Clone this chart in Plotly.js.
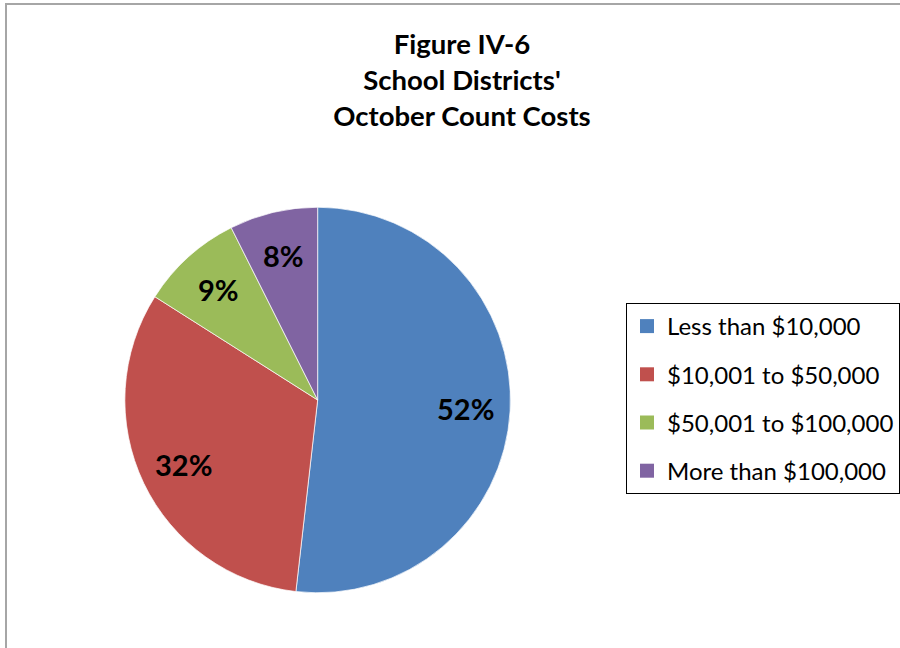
<!DOCTYPE html>
<html>
<head>
<meta charset="utf-8">
<script src="https://cdn.plot.ly/plotly-3.0.1.min.js"></script>
<style>
  html, body { margin: 0; padding: 0; background: #fff; overflow: hidden; }
  #frame { position: absolute; left: 5px; top: 3px; width: 1000px; height: 1000px;
           border-left: 2px solid #a6a6a6; border-top: 2px solid #a6a6a6; }
  #chart { position: absolute; left: 0; top: 0; width: 900px; height: 648px; }
</style>
</head>
<body>
<div id="frame"></div>
<div id="chart"></div>
<script>
const categories = ['Less than $10,000', '$10,001 to $50,000', '$50,001 to $100,000', 'More than $100,000'];
const shares = [51.8, 32.2, 8.6, 7.4];
const shareLabels = ['52%', '32%', '9%', '8%'];
const colors = ['#4f81bd', '#c0504d', '#9bbb59', '#8064a2'];

const FONT = 'Lato, "Open Sans", sans-serif';
const W = 900, H = 648;

// pie geometry (pixels)
const pieLeft = 125, pieRight = 511, pieTop = 207, pieBottom = 593;
const domain = { x: [pieLeft / W, pieRight / W], y: [1 - pieBottom / H, 1 - pieTop / H] };

const pie = {
  type: 'pie',
  labels: categories,
  values: shares,
  textinfo: 'none',
  sort: false,
  direction: 'clockwise',
  rotation: 0,
  marker: { colors: colors, line: { color: 'rgba(255,255,255,0.7)', width: 1 } },
  showlegend: false,
  hoverinfo: 'label+percent',
  domain: domain
};

// data labels placed at each slice's mid-angle, derived from the values
const total = shares.reduce((a, b) => a + b, 0);
const cx = (pieLeft + pieRight) / 2, cy = (pieTop + pieBottom) / 2, R = (pieRight - pieLeft) / 2;
const labelRadius = 0.77;
let cum = 0;
const annotations = shares.map((v, i) => {
  const mid = (cum + v / 2) / total * 2 * Math.PI;
  cum += v;
  const px = cx + R * labelRadius * Math.sin(mid);
  const py = cy - R * labelRadius * Math.cos(mid);
  return {
    xref: 'paper', yref: 'paper', x: px / W, y: 1 - py / H,
    xanchor: 'center', yanchor: 'middle', showarrow: false,
    text: '<b>' + shareLabels[i] + '</b>',
    font: { family: FONT, size: 29, color: '#000' }
  };
});

const legendTraces = categories.map((c, i) => ({
  type: 'scatter', mode: 'markers', x: [null], y: [null], name: c,
  legendgroup: 'g' + i, showlegend: true,
  marker: { symbol: 'square', size: 14, color: colors[i] }
}));

const layout = {
  width: W, height: H,
  margin: { l: 0, r: 0, t: 0, b: 0 },
  paper_bgcolor: 'rgba(0,0,0,0)',
  plot_bgcolor: 'rgba(0,0,0,0)',
  title: {
    text: "<b>Figure IV-6<br>School Districts'<br>October Count Costs</b>",
    x: 462 / W, xanchor: 'center', y: 1 - 54 / H, yanchor: 'top',
    font: { family: FONT, size: 27.5, color: '#000' }
  },
  xaxis: { visible: false },
  yaxis: { visible: false },
  annotations: annotations,
  legend: {
    x: 627 / W, xanchor: 'left', y: 1 - 303 / H, yanchor: 'top',
    bordercolor: '#000', borderwidth: 1, bgcolor: '#fff',
    traceorder: 'grouped', tracegroupgap: 14,
    font: { family: FONT, size: 24, color: '#000' },
    itemwidth: 30
  },
  showlegend: true
};

Plotly.newPlot('chart', [pie].concat(legendTraces), layout, { displayModeBar: false, staticPlot: true });
</script>
</body>
</html>
